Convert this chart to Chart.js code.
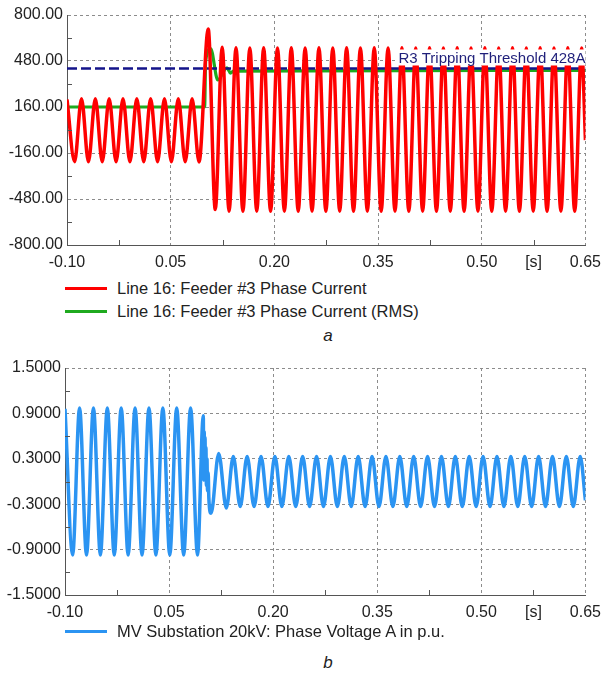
<!DOCTYPE html>
<html>
<head>
<meta charset="utf-8">
<script src="https://cdn.jsdelivr.net/npm/chart.js@4.4.1/dist/chart.umd.min.js"></script>
<style>
    body { margin: 0; background: #fff; }
    #page { position: relative; width: 609px; height: 675px; font-family: "Liberation Sans", Arial, sans-serif; color: #222; }
    .box { position: absolute; left: 0; width: 609px; height: 275px; }
    .swatch { position: absolute; left: 65px; width: 42px; height: 3px; }
    .ltext { position: absolute; left: 117px; font-size: 16.5px; line-height: 20px; white-space: nowrap; }
    .caption { position: absolute; width: 20px; text-align: center; font-size: 17px; line-height: 20px; font-style: italic; }
</style>
</head>
<body>
<div id="page">
    <div class="box" style="top:0"><canvas id="current-chart" width="609" height="275"></canvas></div>
    <div class="swatch" style="top:287px;background:#ff0000"></div>
    <div class="ltext" style="top:278px">Line 16: Feeder #3 Phase Current</div>
    <div class="swatch" style="top:310px;background:#1faa1f"></div>
    <div class="ltext" style="top:301px">Line 16: Feeder #3 Phase Current (RMS)</div>
    <div class="caption" style="left:318px;top:326px">a</div>

    <div class="box" style="top:350px"><canvas id="voltage-chart" width="609" height="275"></canvas></div>
    <div class="swatch" style="top:630px;background:#2b94f2"></div>
    <div class="ltext" style="top:621px">MV Substation 20kV: Phase Voltage A in p.u.</div>
    <div class="caption" style="left:318px;top:653px">b</div>
</div>
<script>
Chart.defaults.font.family = '"Liberation Sans", Arial, sans-serif';
Chart.defaults.font.size = 16;
Chart.defaults.color = "#222";

/********************** data **********************/

// phase current, extremes of the waveform [s] / [A]
const curTime = [
    -0.100, -0.089, -0.079, -0.069, -0.059, -0.049, -0.039, -0.029, -0.019, -0.009,
    0.001, 0.011, 0.021, 0.031, 0.041, 0.051, 0.061, 0.071, 0.081, 0.091,
    0.1043, 0.1145, 0.1245, 0.1345, 0.1445, 0.1545, 0.1645, 0.1745, 0.1845, 0.1945,
    0.2045, 0.2145, 0.2245, 0.2345, 0.2445, 0.2545, 0.2645, 0.2745, 0.2845, 0.2945,
    0.3045, 0.3145, 0.3245, 0.3345, 0.3445, 0.3545, 0.3645, 0.3745, 0.3845, 0.3945,
    0.4045, 0.4145, 0.4245, 0.4345, 0.4445, 0.4545, 0.4645, 0.4745, 0.4845, 0.4945,
    0.5045, 0.5145, 0.5245, 0.5345, 0.5445, 0.5545, 0.5645, 0.5745, 0.5845, 0.5945,
    0.6045, 0.6145, 0.6245, 0.6345, 0.6445, 0.650
];
const curAmp = [
    212, -220, 218, -221, 218, -220, 217, -221, 218, -220,
    218, -221, 217, -220, 218, -221, 218, -220, 217, -222,
    703, -553, 576, -565, 572, -566, 571, -565, 572, -566,
    571, -565, 572, -566, 571, -565, 572, -566, 571, -565,
    572, -566, 571, -565, 572, -566, 571, -565, 572, -566,
    571, -565, 572, -566, 571, -565, 572, -566, 571, -565,
    572, -566, 571, -565, 572, -566, 571, -565, 572, -566,
    571, -565, 572, -566, 571, -70
];

// RMS of the phase current
const rmsTime = [-0.100, 0.0991, 0.1006, 0.1077, 0.1182, 0.1315, 0.1364, 0.141, 0.250, 0.650];
const rmsAmp  = [160, 160, 480, 567, 348, 433, 396, 410, 412, 415];

// R3 tripping threshold
const thrTime = [-0.100, 0.650];
const thrAmp  = [428, 428];
const thrText = "R3 Tripping Threshold 428A";

// phase voltage A, p.u.
const volTime = [
    -0.100, -0.089, -0.079, -0.069, -0.059, -0.049, -0.039, -0.029, -0.019, -0.009,
    0.001, 0.011, 0.021, 0.031, 0.041, 0.051, 0.061, 0.071, 0.081, 0.091,
    0.0993, 0.1000, 0.1006, 0.1012, 0.1018, 0.1024, 0.1031, 0.1038, 0.1046, 0.1054,
    0.1063, 0.1073, 0.1105, 0.1215, 0.1325, 0.1425, 0.1525, 0.1625, 0.1725, 0.1825,
    0.1925, 0.2025, 0.2125, 0.2225, 0.2325, 0.2425, 0.2525, 0.2625, 0.2725, 0.2825,
    0.2925, 0.3025, 0.3125, 0.3225, 0.3325, 0.3425, 0.3525, 0.3625, 0.3725, 0.3825,
    0.3925, 0.4025, 0.4125, 0.4225, 0.4325, 0.4425, 0.4525, 0.4625, 0.4725, 0.4825,
    0.4925, 0.5025, 0.5125, 0.5225, 0.5325, 0.5425, 0.5525, 0.5625, 0.5725, 0.5825,
    0.5925, 0.6025, 0.6125, 0.6225, 0.6325, 0.6425, 0.650
];
const volPu = [
    0.96, -0.97, 0.97, -0.97, 0.97, -0.97, 0.97, -0.97, 0.97, -0.97,
    0.97, -0.97, 0.97, -0.97, 0.97, -0.97, 0.97, -0.97, 0.97, -0.97,
    0.87, 0.02, 0.66, 0.10, 0.58, 0.05, 0.45, -0.05, 0.30, -0.12,
    0.12, -0.22, -0.42, 0.37, -0.35, 0.33, -0.33, 0.33, -0.33, 0.33,
    -0.33, 0.33, -0.33, 0.33, -0.33, 0.33, -0.33, 0.33, -0.33, 0.33,
    -0.33, 0.33, -0.33, 0.33, -0.33, 0.33, -0.33, 0.33, -0.33, 0.33,
    -0.33, 0.33, -0.33, 0.33, -0.33, 0.33, -0.33, 0.33, -0.33, 0.33,
    -0.33, 0.33, -0.33, 0.33, -0.33, 0.33, -0.33, 0.33, -0.33, 0.33,
    -0.33, 0.33, -0.33, 0.33, -0.33, 0.33, -0.25
];

// axes
const tMin = -0.10, tMax = 0.65, tStep = 0.075;
const timeUnit = "[s]";
const curMin = -800, curMax = 800, curStep = 160;
const volMin = -1.5, volMax = 1.5, volStep = 0.3;

/********************** helpers **********************/

function toPoints(xs, ys) {
    let pts = [];
    for (let idx = 0; idx < xs.length; idx++) {
        pts.push({x: xs[idx], y: ys[idx]});
    }
    return pts;
}

function waveSet(xs, ys, color, width) {
    return {
        data: toPoints(xs, ys),
        borderColor: color,
        borderWidth: width,
        pointRadius: 0,
        cubicInterpolationMode: "monotone",
        fill: false
    };
}

// little inward ticks on the unlabelled steps
const minorTicks = {
    id: "minorTicks",
    afterDraw(chart) {
        const {ctx, chartArea: a, scales: {x, y}} = chart;
        ctx.save();
        ctx.strokeStyle = "#555";
        ctx.lineWidth = 1;
        ctx.beginPath();
        x.ticks.forEach((t, i) => {
            if (i % 2) {
                const px = Math.round(x.getPixelForValue(t.value)) + 0.5;
                ctx.moveTo(px, a.bottom);
                ctx.lineTo(px, a.bottom - 5);
            }
        });
        y.ticks.forEach((t, i) => {
            if (i % 2) {
                const py = Math.round(y.getPixelForValue(t.value)) + 0.5;
                ctx.moveTo(a.left, py);
                ctx.lineTo(a.left + 5, py);
            }
        });
        ctx.stroke();
        ctx.restore();
    }
};

// threshold caption with white backing
const thresholdLabel = {
    id: "thresholdLabel",
    afterDatasetsDraw(chart) {
        if (chart.canvas.id !== "current-chart") return;
        const {ctx, chartArea, scales} = chart;
        const yPix = scales.y.getPixelForValue(thrAmp[0]);
        ctx.save();
        ctx.font = '15px "Liberation Sans", Arial, sans-serif';
        const w = ctx.measureText(thrText).width;
        const top = yPix - 19;
        ctx.fillStyle = "#fff";
        ctx.fillRect(chartArea.right - w - 3, top, w + 3, 16);
        ctx.fillStyle = "#1f1f7a";
        ctx.textAlign = "right";
        ctx.textBaseline = "middle";
        ctx.fillText(thrText, chartArea.right, top + 9);
        ctx.restore();
    }
};

function axes(yMin, yMax, yStep, yDigits, yWidth) {
    const gridColor = (c) => (c.index % 2 ? "rgba(0,0,0,0)" : "#8c8c8c");
    return {
        x: {
            type: "linear",
            min: tMin, max: tMax,
            afterFit: (s) => { s.height = 30; },
            ticks: {
                stepSize: tStep,
                autoSkip: false,
                maxRotation: 0,
                padding: 8,
                callback: (v, i) => (i === 9 ? timeUnit : (i % 2 ? "" : v.toFixed(2)))
            },
            grid: { color: gridColor, lineWidth: 1, drawTicks: false },
            border: { color: "#555", width: 1, dash: [3, 3] }
        },
        y: {
            min: yMin, max: yMax,
            afterFit: (s) => { s.width = yWidth; },
            ticks: {
                stepSize: yStep,
                padding: 4,
                callback: (v, i) => (i % 2 ? "" : v.toFixed(yDigits))
            },
            grid: { color: gridColor, lineWidth: 1, drawTicks: false },
            border: { color: "#555", width: 1, dash: [3, 3] }
        }
    };
}

var chart0, mychart0;
var chart1, mychart1;

/********************** chart 0 : current **********************/
chart0 = document.getElementById("current-chart");
mychart0 = new Chart(chart0, {
    type: "line",
    data: {
        datasets: [
            waveSet(curTime, curAmp, "#ff0000", 3.5),
            Object.assign(waveSet(thrTime, thrAmp, "#14148a", 2.5), { borderDash: [10, 4], cubicInterpolationMode: "default" }),
            waveSet(rmsTime, rmsAmp, "#1faa1f", 3.2)
        ]
    },
    options: {
        responsive: false,
        animation: false,
        layout: { padding: { top: 15, right: 19, bottom: 0, left: 0 } },
        plugins: { legend: { display: false }, tooltip: { enabled: false } },
        scales: axes(curMin, curMax, curStep, 2, 67)
    },
    plugins: [minorTicks, thresholdLabel]
});

/********************** chart 1 : voltage **********************/
chart1 = document.getElementById("voltage-chart");
mychart1 = new Chart(chart1, {
    type: "line",
    data: {
        datasets: [ waveSet(volTime, volPu, "#2b94f2", 3.5) ]
    },
    options: {
        responsive: false,
        animation: false,
        layout: { padding: { top: 18, right: 21, bottom: 0, left: 0 } },
        plugins: { legend: { display: false }, tooltip: { enabled: false } },
        scales: axes(volMin, volMax, volStep, 4, 65)
    },
    plugins: [minorTicks]
});
</script>
</body>
</html>
